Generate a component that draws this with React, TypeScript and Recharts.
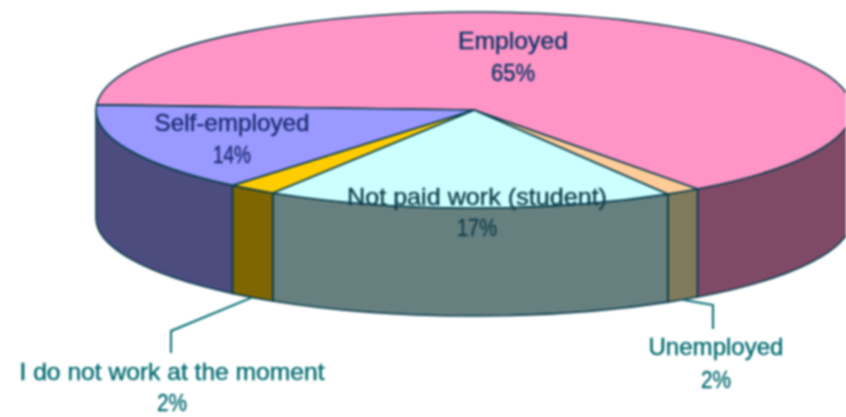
import { Pie, PieChart } from "recharts";

// slice sizes as measured on the drawing, printed percentages kept apart
const categories = [
  "Employed",
  "Unemployed",
  "Not paid work (student)",
  "I do not work at the moment",
  "Self-employed",
];
const sliceShares = [64.1, 1.5, 17.5, 2.1, 14.8];
const printedPercents = ["65%", "2%", "17%", "2%", "14%"];
const topColors = ["#ff94c6", "#ffcc99", "#ccffff", "#ffcc00", "#9999ff"];
const wallColors = ["#804a66", "#7f7a5c", "#667f7f", "#7f6600", "#4c4c7f"];

const tableData = categories.map((name, i) => ({
  name,
  share: sliceShares[i],
  fill: topColors[i],
  wall: wallColors[i],
  percent: printedPercents[i],
}));

const CX = 474;
const CY = 110;
const RX = 378;
const RY = 98;
const DEPTH = 108;
const LINE = "#063c4c";

const rim = (deg: number, drop = 0) => {
  const rad = (deg * Math.PI) / 180;
  return [CX + RX * Math.cos(rad), CY - RY * Math.sin(rad) + drop];
};

const Slice3D = ({ startAngle, endAngle, fill, payload }: any) => {
  const [sx, sy] = rim(startAngle);
  const [ex, ey] = rim(endAngle);
  const large = startAngle - endAngle > 180 ? 1 : 0;
  const wallFrom = Math.min(startAngle, 0);
  const wallTo = Math.max(endAngle, -180);
  let wall = null;
  if (wallFrom > wallTo) {
    const [ax, ay] = rim(wallFrom);
    const [bx, by] = rim(wallTo);
    wall = (
      <path
        d={`M${ax},${ay} A${RX},${RY} 0 0 1 ${bx},${by} L${bx},${by + DEPTH} A${RX},${RY} 0 0 0 ${ax},${ay + DEPTH} Z`}
        fill={payload.wall}
        stroke={LINE}
        strokeWidth={1.6}
      />
    );
  }
  return (
    <g>
      {wall}
      <path
        d={`M${CX},${CY} L${sx},${sy} A${RX},${RY} 0 ${large} 1 ${ex},${ey} Z`}
        fill={fill}
        stroke={LINE}
        strokeWidth={1.6}
      />
    </g>
  );
};

// centre x, first baseline, second baseline, text width, text colour, leader elbows
const labelSpots: any[] = [
  { x: 513, y1: 49, y2: 81, w: 110, pw: 44, color: "#0a3566" },
  { x: 716, y1: 355, y2: 388, w: 135, pw: 30, color: "#006a70", leader: [[713, 305], [713, 329]] },
  { x: 477, y1: 205, y2: 236, w: 260, pw: 40, color: "#123f4e" },
  { x: 172, y1: 380, y2: 411, w: 305, pw: 30, color: "#006a70", leader: [[171, 331], [171, 353]] },
  { x: 232, y1: 131, y2: 163, w: 155, pw: 38, color: "#1c2c70" },
];

const renderLabel = ({ index, midAngle }: any) => {
  const spot = labelSpots[index];
  const row = tableData[index];
  const textStyle = {
    fontFamily: "'Liberation Sans', Arial, sans-serif",
    fontSize: 24,
    fill: spot.color,
    stroke: spot.color,
    strokeWidth: 0.4,
  };
  let leader = null;
  if (spot.leader) {
    const [lx, ly] = rim(-Math.abs(midAngle), DEPTH);
    const pts = [[lx, ly], ...spot.leader].map((p) => p.join(",")).join(" ");
    leader = <polyline points={pts} fill="none" stroke="#006a70" strokeWidth={2} />;
  }
  return (
    <g>
      {leader}
      <text x={spot.x} y={spot.y1} textAnchor="middle" textLength={spot.w} lengthAdjust="spacingAndGlyphs" style={textStyle}>
        {row.name}
      </text>
      <text x={spot.x} y={spot.y2} textAnchor="middle" textLength={spot.pw} lengthAdjust="spacingAndGlyphs" style={textStyle}>
        {row.percent}
      </text>
    </g>
  );
};

export default function App() {
  return (
    <div
      style={{
        position: "absolute",
        left: 0,
        top: 0,
        width: 846,
        height: 417,
        overflow: "hidden",
        background: "#fff",
        filter: "blur(0.8px)",
      }}
    >
      <PieChart width={846} height={417} margin={{ top: 0, right: 0, bottom: 0, left: 0 }}>
        <Pie
          data={tableData}
          dataKey="share"
          nameKey="name"
          cx={CX}
          cy={CY}
          outerRadius={RX}
          startAngle={177}
          endAngle={-183}
          shape={Slice3D}
          label={renderLabel}
          labelLine={false}
          isAnimationActive={false}
        />
      </PieChart>
    </div>
  );
}
